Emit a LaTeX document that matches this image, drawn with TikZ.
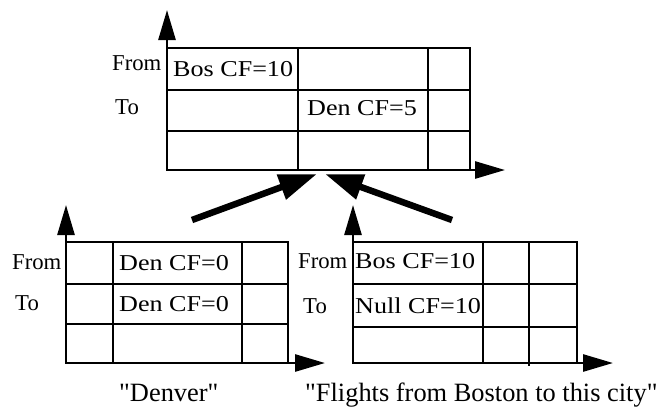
\documentclass[tikz,border=0pt]{standalone}
\usepackage{fontspec}
\setmainfont{Liberation Serif}[Ligatures=TeXOff]
\newfontfamily\cellfont[FakeStretch=1.15]{Liberation Serif}
\usetikzlibrary{arrows.meta}
\tikzset{
  gridline/.style={line width=2.7pt},
  axis/.style={line width=2.7pt,-{Triangle[length=30pt,width=17pt]}},
  fatarrow/.style={line width=6.5pt,-{Triangle[length=38pt,width=25pt]}},
  rowlabel/.style={anchor=base west,inner sep=0pt,font=\fontsize{22.7}{26}\selectfont},
  celltext/.style={anchor=base west,inner sep=0pt,font=\cellfont\fontsize{22.7}{26}\selectfont},
  caption/.style={anchor=base west,inner sep=0pt,font=\fontsize{26.4}{30}\selectfont},
}
\begin{document}
\begin{tikzpicture}[x=1pt,y=-1pt]
\useasboundingbox (0,0) rectangle (659,408);
% ---------- top grid ----------
\draw[gridline] (167,48) rectangle (470,170);
\draw[gridline] (167,90) -- (470,90) (167,131) -- (470,131);
\draw[gridline] (298,48) -- (298,170) (428,48) -- (428,170);
\coordinate (t0) at (167,170);
\coordinate (ty) at (167,10);
\coordinate (tx) at (505,170);
\draw[axis] (t0) -- (ty);
\draw[axis] (t0) -- (tx);
\node[rowlabel] (tfrom) at (112,70) {From};
\node[rowlabel] (tto) at (115,114) {To};
\node[celltext] (tbos) at (173,76) {Bos CF=10};
\node[celltext] (tden) at (307,115) {Den CF=5};
% ---------- bottom left grid ----------
\draw[gridline] (66,242) rectangle (288,363);
\draw[gridline] (66,284) -- (288,284) (66,324) -- (288,324);
\draw[gridline] (113,242) -- (113,363) (242,242) -- (242,363);
\coordinate (l0) at (66,363);
\coordinate (ly) at (66,205);
\coordinate (lx) at (325,363);
\draw[axis] (l0) -- (ly);
\draw[axis] (l0) -- (lx);
\node[rowlabel] (lfrom) at (12,269) {From};
\node[rowlabel] (lto) at (15,310) {To};
\node[celltext] (lden1) at (119,270) {Den CF=0};
\node[celltext] (lden2) at (119,311) {Den CF=0};
\node[caption] (lcap) at (119,401) {"Denver"};
% ---------- bottom right grid ----------
\draw[gridline] (353,242) rectangle (577,363);
\draw[gridline] (353,284) -- (577,284) (353,327) -- (577,327);
\draw[gridline] (483,242) -- (483,363) (529,242) -- (529,366);
\coordinate (r0) at (353,363);
\coordinate (ry) at (353,205);
\coordinate (rx) at (613,363);
\draw[axis] (r0) -- (ry);
\draw[axis] (r0) -- (rx);
\node[rowlabel] (rfrom) at (298,268) {From};
\node[rowlabel] (rto) at (303,313) {To};
\node[celltext] (rbos) at (355,268) {Bos CF=10};
\node[celltext] (rnull) at (355,313) {Null CF=10};
\node[caption] (rcap) at (305,401) {"Flights from Boston to this city"};
% ---------- combining arrows ----------
\coordinate (la) at (192,220);
\coordinate (lt) at (317,174);
\coordinate (ra) at (452,220);
\coordinate (rt) at (325,174);
\draw[fatarrow] (la) -- (lt);
\draw[fatarrow] (ra) -- (rt);
\end{tikzpicture}
\end{document}
